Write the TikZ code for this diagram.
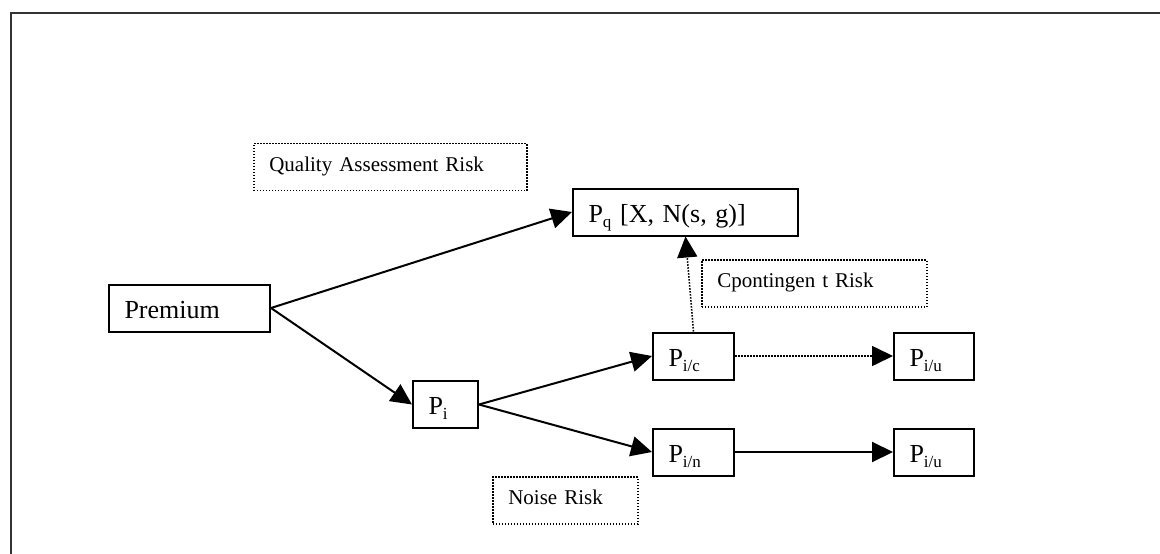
\documentclass[tikz,border=0pt]{standalone}
\usepackage{fontspec}
\setmainfont{Liberation Serif}
\usetikzlibrary{arrows.meta}
\newcommand{\sbs}[1]{\raisebox{-5pt}{\fontsize{17}{17}\selectfont #1}}
\begin{document}
\begin{tikzpicture}[x=1pt,y=-1pt,
  mainbox/.style={draw, line width=2pt, anchor=west, inner xsep=15.5pt, inner ysep=0pt,
    minimum height=47pt, align=left, text height=22pt, text depth=2pt,
    font=\fontsize{26}{30}\selectfont},
  riskbox/.style={draw, line width=1.6pt, dash pattern=on 1.5pt off 1.5pt, anchor=west,
    inner xsep=15.5pt, inner ysep=0pt, minimum height=47pt, align=left,
    text height=15pt, text depth=7pt, font=\fontsize{21}{25}\selectfont},
  link/.style={line width=2pt, -{Triangle[length=21pt,width=20pt]}},
  dotlink/.style={line width=1.6pt, dash pattern=on 1.5pt off 1.5pt, -{Triangle[length=21pt,width=20pt]}}
  ]
\useasboundingbox (0,0) rectangle (1160,554);
\draw[line width=2pt, black!80] (11,554) -- (11,12.5) -- (1160,12.5);

% main boxes
\node[mainbox, text width=130pt] (prem) at (108,308) {Premium};
\node[mainbox, text width=194pt] (pq) at (572,212) {P\sbs{q} [X, N(s, g)]};
\node[mainbox, text width=34pt] (pi) at (412,404.5) {P\sbs{i}};
\node[mainbox, text width=50pt] (pic) at (652,356) {P\sbs{i/c}};
\node[mainbox, text width=49pt] (piu1) at (893,356) {P\sbs{i/u}};
\node[mainbox, text width=50pt] (pin) at (652,452) {P\sbs{i/n}};
\node[mainbox, text width=49pt] (piu2) at (893,452) {P\sbs{i/u}};

% risk labels
\node[riskbox, text width=242pt] (qar) at (253,167) {Quality Assessment Risk};
\node[riskbox, text width=194pt] (cont) at (701,283.5) {Cpontingen t Risk};
\node[riskbox, text width=114pt] (noise) at (492,500.5) {Noise Risk};

% connectors
\draw[link] (prem.east) -- (pq.west);
\draw[link] (prem.east) -- (pi.west);
\draw[link] (pi.east) -- (pic.west);
\draw[link] (pi.east) -- (pin.west);
\draw[dotlink] (pic.east) -- (piu1.west);
\draw[link] (pin.east) -- (piu2.west);
\draw[dotlink] (pic.north) -- (pq.south);
\end{tikzpicture}
\end{document}
